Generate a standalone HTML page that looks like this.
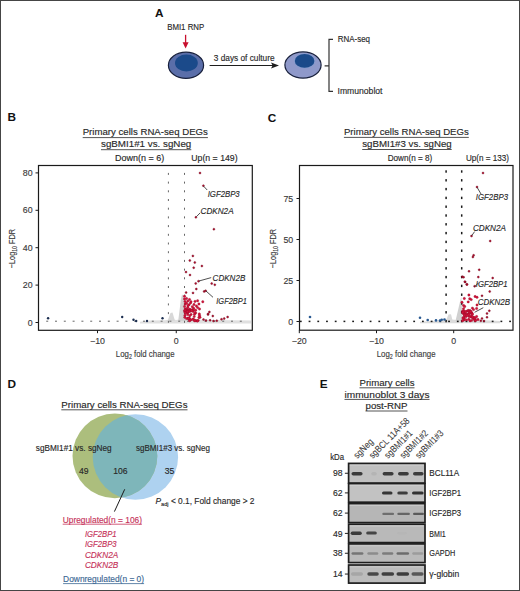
<!DOCTYPE html>
<html><head><meta charset="utf-8"><style>
html,body{margin:0;padding:0;background:#fff;}
svg{display:block;font-family:"Liberation Sans", sans-serif;}
</style></head><body>
<svg width="520" height="591" viewBox="0 0 520 591">
<rect width="520" height="591" fill="#fff"/>
<rect x="0.5" y="0.5" width="519" height="590" fill="none" stroke="#454545" stroke-width="1"/>
<text x="155.0" y="16.9" font-size="11.8" text-anchor="start" font-weight="bold" font-style="normal" fill="#111" >A</text>
<text x="167.2" y="30.1" font-size="8.8" text-anchor="start" font-weight="normal" font-style="normal" fill="#282828" stroke="#282828" stroke-width="0.14" textLength="37" lengthAdjust="spacingAndGlyphs" >BMI1 RNP</text>
<line x1="185.6" y1="34.8" x2="185.6" y2="43.5" stroke="#c8102e" stroke-width="1.3" />
<path d="M182.6,42.2 L188.6,42.2 L185.6,48.4 Z" fill="#c8102e" stroke="none" stroke-width="1" />
<ellipse cx="186" cy="65.3" rx="17.6" ry="13.1" fill="#5a6ea9" stroke="#18203c" stroke-width="1.2"/>
<ellipse cx="186.4" cy="62.9" rx="11.4" ry="8.5" fill="#1b4a8a"/>
<line x1="209.6" y1="65.5" x2="274" y2="65.5" stroke="#1e1e1e" stroke-width="1.0" />
<path d="M271,62.4 L279,65.5 L271,68.6 L272.6,65.5 Z" fill="#1e1e1e" stroke="none" stroke-width="1" />
<text x="213.8" y="61.0" font-size="8.8" text-anchor="start" font-weight="normal" font-style="normal" fill="#282828" stroke="#282828" stroke-width="0.14" textLength="60.8" lengthAdjust="spacingAndGlyphs" >3 days of culture</text>
<ellipse cx="303" cy="65" rx="18.1" ry="13.1" fill="#8f99ca" stroke="#18203c" stroke-width="1.2"/>
<ellipse cx="304.6" cy="60.9" rx="10.6" ry="7.4" fill="#7f9fd0" opacity="0.6"/>
<ellipse cx="304.6" cy="60.9" rx="9.8" ry="6.8" fill="#1b4a8a"/>
<path d="M324.6,65.8 H329 M333,39.4 H329 V91.3 H333" fill="none" stroke="#333" stroke-width="1.2" />
<text x="337.7" y="42.4" font-size="8.8" text-anchor="start" font-weight="normal" font-style="normal" fill="#282828" stroke="#282828" stroke-width="0.14" textLength="32.3" lengthAdjust="spacingAndGlyphs" >RNA-seq</text>
<text x="337.5" y="94.3" font-size="8.8" text-anchor="start" font-weight="normal" font-style="normal" fill="#282828" stroke="#282828" stroke-width="0.14" textLength="45" lengthAdjust="spacingAndGlyphs" >Immunoblot</text>
<text x="7.6" y="121.0" font-size="11.8" text-anchor="start" font-weight="bold" font-style="normal" fill="#111" >B</text>
<text x="82.7" y="135.2" font-size="9.4" text-anchor="start" font-weight="normal" font-style="normal" fill="#282828" stroke="#282828" stroke-width="0.14" textLength="125.2" lengthAdjust="spacingAndGlyphs" >Primary cells RNA-seq DEGs</text>
<line x1="82.7" y1="137.6" x2="207.9" y2="137.6" stroke="#282828" stroke-width="0.8" />
<text x="101" y="147.2" font-size="9.4" text-anchor="start" font-weight="normal" font-style="normal" fill="#282828" stroke="#282828" stroke-width="0.14" textLength="90.3" lengthAdjust="spacingAndGlyphs" >sgBMI1#1 vs. sgNeg</text>
<line x1="101" y1="149.7" x2="191.3" y2="149.7" stroke="#282828" stroke-width="0.8" />
<text x="115" y="160.6" font-size="8.2" text-anchor="start" font-weight="normal" font-style="normal" fill="#282828" stroke="#282828" stroke-width="0.14" textLength="49.2" lengthAdjust="spacingAndGlyphs" >Down(n = 6)</text>
<text x="191.3" y="160.6" font-size="8.2" text-anchor="start" font-weight="normal" font-style="normal" fill="#282828" stroke="#282828" stroke-width="0.14" textLength="46.3" lengthAdjust="spacingAndGlyphs" >Up(n = 149)</text>
<path d="M140,321.8 L150,320.6 L165,320.2 L172,319 L176,320 L182,319 L200,319.8 L230,320.2 L251,320.6 L251,323.4 L140,323.4 Z" fill="#e0e0e0" stroke="none" stroke-width="1" />
<path d="M167.5,321 L170.5,313 L172.5,312.6 L175,321 Z" fill="#d8d8d8" stroke="none" stroke-width="1" />
<path d="M178.2,321 L180.8,300 L182,294.4 L183.8,296 L186,321 Z" fill="#d2d2d2" stroke="none" stroke-width="1" />
<rect x="167.90" y="172.90" width="1" height="2" fill="#666"/>
<rect x="184.00" y="172.90" width="1" height="2" fill="#666"/>
<rect x="167.90" y="181.60" width="1" height="2" fill="#666"/>
<rect x="184.00" y="181.60" width="1" height="2" fill="#666"/>
<rect x="167.90" y="190.30" width="1" height="2" fill="#666"/>
<rect x="184.00" y="190.30" width="1" height="2" fill="#666"/>
<rect x="167.90" y="199.00" width="1" height="2" fill="#666"/>
<rect x="184.00" y="199.00" width="1" height="2" fill="#666"/>
<rect x="167.90" y="207.70" width="1" height="2" fill="#666"/>
<rect x="184.00" y="207.70" width="1" height="2" fill="#666"/>
<rect x="167.90" y="216.40" width="1" height="2" fill="#666"/>
<rect x="184.00" y="216.40" width="1" height="2" fill="#666"/>
<rect x="167.90" y="225.10" width="1" height="2" fill="#666"/>
<rect x="184.00" y="225.10" width="1" height="2" fill="#666"/>
<rect x="167.90" y="233.80" width="1" height="2" fill="#666"/>
<rect x="184.00" y="233.80" width="1" height="2" fill="#666"/>
<rect x="167.90" y="242.50" width="1" height="2" fill="#666"/>
<rect x="184.00" y="242.50" width="1" height="2" fill="#666"/>
<rect x="167.90" y="251.20" width="1" height="2" fill="#666"/>
<rect x="184.00" y="251.20" width="1" height="2" fill="#666"/>
<rect x="167.90" y="259.90" width="1" height="2" fill="#666"/>
<rect x="184.00" y="259.90" width="1" height="2" fill="#666"/>
<rect x="167.90" y="268.60" width="1" height="2" fill="#666"/>
<rect x="184.00" y="268.60" width="1" height="2" fill="#666"/>
<rect x="167.90" y="277.30" width="1" height="2" fill="#666"/>
<rect x="184.00" y="277.30" width="1" height="2" fill="#666"/>
<rect x="167.90" y="286.00" width="1" height="2" fill="#666"/>
<rect x="184.00" y="286.00" width="1" height="2" fill="#666"/>
<rect x="167.90" y="294.70" width="1" height="2" fill="#666"/>
<rect x="184.00" y="294.70" width="1" height="2" fill="#666"/>
<rect x="167.90" y="303.40" width="1" height="2" fill="#666"/>
<rect x="184.00" y="303.40" width="1" height="2" fill="#666"/>
<rect x="167.90" y="312.10" width="1" height="2" fill="#666"/>
<rect x="184.00" y="312.10" width="1" height="2" fill="#666"/>
<rect x="167.90" y="320.80" width="1" height="2" fill="#666"/>
<rect x="184.00" y="320.80" width="1" height="2" fill="#666"/>
<rect x="46.20" y="320.70" width="2" height="1" fill="#666"/>
<rect x="55.00" y="320.70" width="2" height="1" fill="#666"/>
<rect x="63.80" y="320.70" width="2" height="1" fill="#666"/>
<rect x="72.60" y="320.70" width="2" height="1" fill="#666"/>
<rect x="81.40" y="320.70" width="2" height="1" fill="#666"/>
<rect x="90.20" y="320.70" width="2" height="1" fill="#666"/>
<rect x="99.00" y="320.70" width="2" height="1" fill="#666"/>
<rect x="107.80" y="320.70" width="2" height="1" fill="#666"/>
<rect x="116.60" y="320.70" width="2" height="1" fill="#666"/>
<rect x="125.40" y="320.70" width="2" height="1" fill="#666"/>
<rect x="134.20" y="320.70" width="2" height="1" fill="#666"/>
<rect x="143.00" y="320.70" width="2" height="1" fill="#666"/>
<rect x="151.80" y="320.70" width="2" height="1" fill="#666"/>
<rect x="160.60" y="320.70" width="2" height="1" fill="#666"/>
<rect x="169.40" y="320.70" width="2" height="1" fill="#666"/>
<rect x="178.20" y="320.70" width="2" height="1" fill="#666"/>
<rect x="187.00" y="320.70" width="2" height="1" fill="#666"/>
<rect x="195.80" y="320.70" width="2" height="1" fill="#666"/>
<rect x="204.60" y="320.70" width="2" height="1" fill="#666"/>
<rect x="213.40" y="320.70" width="2" height="1" fill="#666"/>
<rect x="222.20" y="320.70" width="2" height="1" fill="#666"/>
<rect x="231.00" y="320.70" width="2" height="1" fill="#666"/>
<rect x="239.80" y="320.70" width="2" height="1" fill="#666"/>
<circle cx="48.1" cy="318.3" r="1.2" fill="#1b2d4f"/>
<circle cx="122.2" cy="317.0" r="1.2" fill="#1b2d4f"/>
<circle cx="133.5" cy="319.7" r="1.2" fill="#1b2d4f"/>
<circle cx="136.2" cy="321.0" r="1.2" fill="#1b2d4f"/>
<circle cx="147.0" cy="321.0" r="1.2" fill="#1b2d4f"/>
<circle cx="162.5" cy="318.3" r="1.2" fill="#1b2d4f"/>
<circle cx="200.0" cy="173.0" r="1.0" fill="#b40c2c" stroke="#6a0a1e" stroke-width="0.4"/>
<circle cx="203.4" cy="185.7" r="1.0" fill="#b40c2c" stroke="#6a0a1e" stroke-width="0.4"/>
<circle cx="195.9" cy="217.3" r="1.0" fill="#b40c2c" stroke="#6a0a1e" stroke-width="0.4"/>
<circle cx="213.9" cy="229.2" r="1.0" fill="#b40c2c" stroke="#6a0a1e" stroke-width="0.4"/>
<circle cx="192.9" cy="255.9" r="1.0" fill="#b40c2c" stroke="#6a0a1e" stroke-width="0.4"/>
<circle cx="189.8" cy="260.5" r="1.0" fill="#b40c2c" stroke="#6a0a1e" stroke-width="0.4"/>
<circle cx="194.8" cy="262.5" r="1.0" fill="#b40c2c" stroke="#6a0a1e" stroke-width="0.4"/>
<circle cx="201.9" cy="266.0" r="1.0" fill="#b40c2c" stroke="#6a0a1e" stroke-width="0.4"/>
<circle cx="193.7" cy="267.7" r="1.0" fill="#b40c2c" stroke="#6a0a1e" stroke-width="0.4"/>
<circle cx="186.0" cy="272.1" r="1.0" fill="#b40c2c" stroke="#6a0a1e" stroke-width="0.4"/>
<circle cx="190.0" cy="275.0" r="1.0" fill="#b40c2c" stroke="#6a0a1e" stroke-width="0.4"/>
<circle cx="195.7" cy="283.4" r="1.0" fill="#b40c2c" stroke="#6a0a1e" stroke-width="0.4"/>
<circle cx="198.5" cy="281.2" r="1.0" fill="#b40c2c" stroke="#6a0a1e" stroke-width="0.4"/>
<circle cx="211.7" cy="283.6" r="1.0" fill="#b40c2c" stroke="#6a0a1e" stroke-width="0.4"/>
<circle cx="214.8" cy="284.8" r="1.0" fill="#b40c2c" stroke="#6a0a1e" stroke-width="0.4"/>
<circle cx="196.3" cy="289.0" r="1.0" fill="#b40c2c" stroke="#6a0a1e" stroke-width="0.4"/>
<circle cx="186.1" cy="292.6" r="1.0" fill="#b40c2c" stroke="#6a0a1e" stroke-width="0.4"/>
<circle cx="193.0" cy="292.9" r="1.0" fill="#b40c2c" stroke="#6a0a1e" stroke-width="0.4"/>
<circle cx="204.1" cy="291.4" r="1.0" fill="#b40c2c" stroke="#6a0a1e" stroke-width="0.4"/>
<circle cx="205.6" cy="290.8" r="1.0" fill="#b40c2c" stroke="#6a0a1e" stroke-width="0.4"/>
<circle cx="184.5" cy="296.2" r="1.2" fill="#d41239" stroke="#8c0c28" stroke-width="0.3"/>
<circle cx="186.5" cy="298.5" r="1.2" fill="#d41239" stroke="#8c0c28" stroke-width="0.3"/>
<circle cx="187.8" cy="301.1" r="1.2" fill="#d41239" stroke="#8c0c28" stroke-width="0.3"/>
<circle cx="195.0" cy="301.4" r="1.2" fill="#d41239" stroke="#8c0c28" stroke-width="0.3"/>
<circle cx="197.6" cy="300.8" r="1.2" fill="#d41239" stroke="#8c0c28" stroke-width="0.3"/>
<circle cx="202.8" cy="301.8" r="1.2" fill="#d41239" stroke="#8c0c28" stroke-width="0.3"/>
<circle cx="185.2" cy="304.0" r="1.2" fill="#d41239" stroke="#8c0c28" stroke-width="0.3"/>
<circle cx="189.1" cy="304.7" r="1.2" fill="#d41239" stroke="#8c0c28" stroke-width="0.3"/>
<circle cx="198.9" cy="304.0" r="1.2" fill="#d41239" stroke="#8c0c28" stroke-width="0.3"/>
<circle cx="187.8" cy="307.3" r="1.2" fill="#d41239" stroke="#8c0c28" stroke-width="0.3"/>
<circle cx="192.3" cy="306.7" r="1.2" fill="#d41239" stroke="#8c0c28" stroke-width="0.3"/>
<circle cx="193.6" cy="308.3" r="1.2" fill="#d41239" stroke="#8c0c28" stroke-width="0.3"/>
<circle cx="197.6" cy="307.6" r="1.2" fill="#d41239" stroke="#8c0c28" stroke-width="0.3"/>
<circle cx="199.5" cy="309.0" r="1.2" fill="#d41239" stroke="#8c0c28" stroke-width="0.3"/>
<circle cx="185.2" cy="309.0" r="1.2" fill="#d41239" stroke="#8c0c28" stroke-width="0.3"/>
<circle cx="193.0" cy="310.3" r="1.2" fill="#d41239" stroke="#8c0c28" stroke-width="0.3"/>
<circle cx="195.6" cy="312.9" r="1.2" fill="#d41239" stroke="#8c0c28" stroke-width="0.3"/>
<circle cx="199.5" cy="315.5" r="1.2" fill="#d41239" stroke="#8c0c28" stroke-width="0.3"/>
<circle cx="198.9" cy="317.5" r="1.2" fill="#d41239" stroke="#8c0c28" stroke-width="0.3"/>
<circle cx="198.2" cy="320.4" r="1.2" fill="#d41239" stroke="#8c0c28" stroke-width="0.3"/>
<circle cx="208.0" cy="314.5" r="1.0" fill="#b40c2c" stroke="#6a0a1e" stroke-width="0.4"/>
<circle cx="209.4" cy="311.9" r="1.0" fill="#b40c2c" stroke="#6a0a1e" stroke-width="0.4"/>
<circle cx="208.1" cy="313.9" r="1.0" fill="#b40c2c" stroke="#6a0a1e" stroke-width="0.4"/>
<circle cx="212.8" cy="316.0" r="1.0" fill="#b40c2c" stroke="#6a0a1e" stroke-width="0.4"/>
<circle cx="210.1" cy="320.3" r="1.0" fill="#b40c2c" stroke="#6a0a1e" stroke-width="0.4"/>
<circle cx="213.5" cy="321.0" r="1.0" fill="#b40c2c" stroke="#6a0a1e" stroke-width="0.4"/>
<circle cx="216.8" cy="320.7" r="1.0" fill="#b40c2c" stroke="#6a0a1e" stroke-width="0.4"/>
<circle cx="221.5" cy="319.3" r="1.0" fill="#b40c2c" stroke="#6a0a1e" stroke-width="0.4"/>
<circle cx="224.2" cy="318.6" r="1.0" fill="#b40c2c" stroke="#6a0a1e" stroke-width="0.4"/>
<circle cx="227.6" cy="317.0" r="1.0" fill="#b40c2c" stroke="#6a0a1e" stroke-width="0.4"/>
<circle cx="200.0" cy="317.3" r="1.2" fill="#d41239" stroke="#8c0c28" stroke-width="0.3"/>
<circle cx="199.3" cy="313.9" r="1.2" fill="#d41239" stroke="#8c0c28" stroke-width="0.3"/>
<circle cx="203.5" cy="319.5" r="1.0" fill="#b40c2c" stroke="#6a0a1e" stroke-width="0.4"/>
<circle cx="206.0" cy="320.5" r="1.0" fill="#b40c2c" stroke="#6a0a1e" stroke-width="0.4"/>
<circle cx="184.5" cy="299.0" r="1.2" fill="#d41239" stroke="#8c0c28" stroke-width="0.3"/>
<circle cx="185.0" cy="301.5" r="1.2" fill="#d41239" stroke="#8c0c28" stroke-width="0.3"/>
<circle cx="186.5" cy="303.2" r="1.2" fill="#d41239" stroke="#8c0c28" stroke-width="0.3"/>
<circle cx="184.6" cy="306.5" r="1.2" fill="#d41239" stroke="#8c0c28" stroke-width="0.3"/>
<circle cx="188.0" cy="305.5" r="1.2" fill="#d41239" stroke="#8c0c28" stroke-width="0.3"/>
<circle cx="190.5" cy="303.0" r="1.2" fill="#d41239" stroke="#8c0c28" stroke-width="0.3"/>
<circle cx="186.0" cy="311.0" r="1.2" fill="#d41239" stroke="#8c0c28" stroke-width="0.3"/>
<circle cx="189.5" cy="299.5" r="1.2" fill="#d41239" stroke="#8c0c28" stroke-width="0.3"/>
<circle cx="191.0" cy="301.8" r="1.2" fill="#d41239" stroke="#8c0c28" stroke-width="0.3"/>
<circle cx="194.0" cy="304.5" r="1.2" fill="#d41239" stroke="#8c0c28" stroke-width="0.3"/>
<circle cx="196.4" cy="306.0" r="1.2" fill="#d41239" stroke="#8c0c28" stroke-width="0.3"/>
<circle cx="190.0" cy="309.5" r="1.2" fill="#d41239" stroke="#8c0c28" stroke-width="0.3"/>
<circle cx="188.0" cy="312.5" r="1.2" fill="#d41239" stroke="#8c0c28" stroke-width="0.3"/>
<circle cx="191.1" cy="314.4" r="1.2" fill="#d41239" stroke="#8c0c28" stroke-width="0.3"/>
<circle cx="190.4" cy="320.1" r="1.2" fill="#d41239" stroke="#8c0c28" stroke-width="0.3"/>
<circle cx="190.2" cy="311.2" r="1.2" fill="#d41239" stroke="#8c0c28" stroke-width="0.3"/>
<circle cx="194.2" cy="316.6" r="1.2" fill="#d41239" stroke="#8c0c28" stroke-width="0.3"/>
<circle cx="187.8" cy="310.1" r="1.2" fill="#d41239" stroke="#8c0c28" stroke-width="0.3"/>
<circle cx="193.5" cy="310.1" r="1.2" fill="#d41239" stroke="#8c0c28" stroke-width="0.3"/>
<circle cx="184.8" cy="317.3" r="1.2" fill="#d41239" stroke="#8c0c28" stroke-width="0.3"/>
<circle cx="197.0" cy="320.8" r="1.2" fill="#d41239" stroke="#8c0c28" stroke-width="0.3"/>
<circle cx="184.5" cy="310.9" r="1.2" fill="#d41239" stroke="#8c0c28" stroke-width="0.3"/>
<circle cx="185.0" cy="315.3" r="1.2" fill="#d41239" stroke="#8c0c28" stroke-width="0.3"/>
<circle cx="187.1" cy="311.3" r="1.2" fill="#d41239" stroke="#8c0c28" stroke-width="0.3"/>
<circle cx="189.5" cy="309.4" r="1.2" fill="#d41239" stroke="#8c0c28" stroke-width="0.3"/>
<circle cx="194.5" cy="314.3" r="1.2" fill="#d41239" stroke="#8c0c28" stroke-width="0.3"/>
<circle cx="187.7" cy="314.5" r="1.2" fill="#d41239" stroke="#8c0c28" stroke-width="0.3"/>
<circle cx="197.4" cy="321.0" r="1.2" fill="#d41239" stroke="#8c0c28" stroke-width="0.3"/>
<circle cx="193.4" cy="319.1" r="1.2" fill="#d41239" stroke="#8c0c28" stroke-width="0.3"/>
<circle cx="187.0" cy="312.8" r="1.2" fill="#d41239" stroke="#8c0c28" stroke-width="0.3"/>
<circle cx="185.1" cy="312.5" r="1.2" fill="#d41239" stroke="#8c0c28" stroke-width="0.3"/>
<circle cx="189.4" cy="318.2" r="1.2" fill="#d41239" stroke="#8c0c28" stroke-width="0.3"/>
<circle cx="189.3" cy="319.2" r="1.2" fill="#d41239" stroke="#8c0c28" stroke-width="0.3"/>
<circle cx="195.4" cy="320.5" r="1.2" fill="#d41239" stroke="#8c0c28" stroke-width="0.3"/>
<circle cx="186.6" cy="309.0" r="1.2" fill="#d41239" stroke="#8c0c28" stroke-width="0.3"/>
<circle cx="190.4" cy="319.9" r="1.2" fill="#d41239" stroke="#8c0c28" stroke-width="0.3"/>
<circle cx="189.5" cy="320.8" r="1.2" fill="#d41239" stroke="#8c0c28" stroke-width="0.3"/>
<circle cx="191.4" cy="309.9" r="1.2" fill="#d41239" stroke="#8c0c28" stroke-width="0.3"/>
<circle cx="187.7" cy="318.3" r="1.2" fill="#d41239" stroke="#8c0c28" stroke-width="0.3"/>
<circle cx="188.1" cy="310.0" r="1.2" fill="#d41239" stroke="#8c0c28" stroke-width="0.3"/>
<circle cx="194.3" cy="320.6" r="1.2" fill="#d41239" stroke="#8c0c28" stroke-width="0.3"/>
<circle cx="187.1" cy="310.4" r="1.2" fill="#d41239" stroke="#8c0c28" stroke-width="0.3"/>
<circle cx="185.0" cy="310.2" r="1.2" fill="#d41239" stroke="#8c0c28" stroke-width="0.3"/>
<circle cx="186.6" cy="318.6" r="1.2" fill="#d41239" stroke="#8c0c28" stroke-width="0.3"/>
<circle cx="189.8" cy="315.7" r="1.2" fill="#d41239" stroke="#8c0c28" stroke-width="0.3"/>
<circle cx="192.8" cy="311.3" r="1.2" fill="#d41239" stroke="#8c0c28" stroke-width="0.3"/>
<circle cx="191.7" cy="310.6" r="1.2" fill="#d41239" stroke="#8c0c28" stroke-width="0.3"/>
<circle cx="189.1" cy="310.4" r="1.2" fill="#d41239" stroke="#8c0c28" stroke-width="0.3"/>
<circle cx="187.4" cy="311.6" r="1.2" fill="#d41239" stroke="#8c0c28" stroke-width="0.3"/>
<circle cx="194.9" cy="320.7" r="1.2" fill="#d41239" stroke="#8c0c28" stroke-width="0.3"/>
<circle cx="194.7" cy="312.6" r="1.2" fill="#d41239" stroke="#8c0c28" stroke-width="0.3"/>
<circle cx="188.9" cy="311.5" r="1.2" fill="#d41239" stroke="#8c0c28" stroke-width="0.3"/>
<circle cx="192.6" cy="319.3" r="1.2" fill="#d41239" stroke="#8c0c28" stroke-width="0.3"/>
<circle cx="195.6" cy="310.2" r="1.2" fill="#d41239" stroke="#8c0c28" stroke-width="0.3"/>
<circle cx="187.3" cy="311.6" r="1.2" fill="#d41239" stroke="#8c0c28" stroke-width="0.3"/>
<circle cx="188.5" cy="318.3" r="1.2" fill="#d41239" stroke="#8c0c28" stroke-width="0.3"/>
<circle cx="185.2" cy="312.6" r="1.2" fill="#d41239" stroke="#8c0c28" stroke-width="0.3"/>
<text x="207.7" y="196.6" font-size="9" text-anchor="start" font-weight="normal" font-style="italic" fill="#282828" stroke="#282828" stroke-width="0.14" textLength="32" lengthAdjust="spacingAndGlyphs" >IGF2BP3</text>
<line x1="203.6" y1="186.2" x2="207.2" y2="190" stroke="#222" stroke-width="0.8" />
<text x="200.5" y="214" font-size="9" text-anchor="start" font-weight="normal" font-style="italic" fill="#282828" stroke="#282828" stroke-width="0.14" textLength="33.1" lengthAdjust="spacingAndGlyphs" >CDKN2A</text>
<line x1="196.5" y1="216.6" x2="200.2" y2="212.8" stroke="#222" stroke-width="0.8" />
<text x="212.6" y="281.1" font-size="9" text-anchor="start" font-weight="normal" font-style="italic" fill="#282828" stroke="#282828" stroke-width="0.14" textLength="32.7" lengthAdjust="spacingAndGlyphs" >CDKN2B</text>
<line x1="199" y1="281" x2="211.2" y2="277.6" stroke="#222" stroke-width="0.8" />
<text x="216.3" y="304.2" font-size="9" text-anchor="start" font-weight="normal" font-style="italic" fill="#282828" stroke="#282828" stroke-width="0.14" textLength="30.5" lengthAdjust="spacingAndGlyphs" >IGF2BP1</text>
<line x1="205.8" y1="290.8" x2="213" y2="297.3" stroke="#222" stroke-width="0.8" />
<rect x="38.5" y="165.5" width="213.8" height="164.8" fill="none" stroke="#1a1a1a" stroke-width="1.2"/>
<line x1="35.5" y1="322.5" x2="38.5" y2="322.5" stroke="#1a1a1a" stroke-width="1" />
<text x="32.6" y="325.5" font-size="8.8" text-anchor="end" font-weight="normal" font-style="normal" fill="#3a3a3a" stroke="#3a3a3a" stroke-width="0.14" >0</text>
<line x1="35.5" y1="285.1" x2="38.5" y2="285.1" stroke="#1a1a1a" stroke-width="1" />
<text x="32.6" y="288.1" font-size="8.8" text-anchor="end" font-weight="normal" font-style="normal" fill="#3a3a3a" stroke="#3a3a3a" stroke-width="0.14" >20</text>
<line x1="35.5" y1="247.7" x2="38.5" y2="247.7" stroke="#1a1a1a" stroke-width="1" />
<text x="32.6" y="250.7" font-size="8.8" text-anchor="end" font-weight="normal" font-style="normal" fill="#3a3a3a" stroke="#3a3a3a" stroke-width="0.14" >40</text>
<line x1="35.5" y1="210.3" x2="38.5" y2="210.3" stroke="#1a1a1a" stroke-width="1" />
<text x="32.6" y="213.3" font-size="8.8" text-anchor="end" font-weight="normal" font-style="normal" fill="#3a3a3a" stroke="#3a3a3a" stroke-width="0.14" >60</text>
<line x1="35.5" y1="172.89999999999998" x2="38.5" y2="172.89999999999998" stroke="#1a1a1a" stroke-width="1" />
<text x="32.6" y="175.89999999999998" font-size="8.8" text-anchor="end" font-weight="normal" font-style="normal" fill="#3a3a3a" stroke="#3a3a3a" stroke-width="0.14" >80</text>
<line x1="97.5" y1="330.3" x2="97.5" y2="333.2" stroke="#1a1a1a" stroke-width="1" />
<text x="97.5" y="344.2" font-size="8.8" text-anchor="middle" font-weight="normal" font-style="normal" fill="#3a3a3a" stroke="#3a3a3a" stroke-width="0.14" >−10</text>
<line x1="176.25" y1="330.3" x2="176.25" y2="333.2" stroke="#1a1a1a" stroke-width="1" />
<text x="176.25" y="344.2" font-size="8.8" text-anchor="middle" font-weight="normal" font-style="normal" fill="#3a3a3a" stroke="#3a3a3a" stroke-width="0.14" >0</text>
<text x="115.8" y="357.4" font-size="9.8" text-anchor="start" font-weight="normal" font-style="normal" fill="#3a3a3a" stroke="#3a3a3a" stroke-width="0.14" textLength="58.8" lengthAdjust="spacingAndGlyphs" >Log<tspan font-size="6.6" dy="2">2</tspan><tspan dy="-2"> fold change</tspan></text>
<text transform="translate(15.0,248.6) rotate(-90)" font-size="9.2" text-anchor="middle" fill="#3a3a3a" stroke="#3a3a3a" stroke-width="0.14" textLength="39.5" lengthAdjust="spacingAndGlyphs">−Log<tspan font-size="6.4" dy="2">10</tspan><tspan dy="-2"> FDR</tspan></text>
<text x="267.8" y="121.5" font-size="11.8" text-anchor="start" font-weight="bold" font-style="normal" fill="#111" >C</text>
<text x="343.9" y="135.2" font-size="9.4" text-anchor="start" font-weight="normal" font-style="normal" fill="#282828" stroke="#282828" stroke-width="0.14" textLength="124.9" lengthAdjust="spacingAndGlyphs" >Primary cells RNA-seq DEGs</text>
<line x1="343.9" y1="137.4" x2="468.8" y2="137.4" stroke="#282828" stroke-width="0.8" />
<text x="362.2" y="147.2" font-size="9.4" text-anchor="start" font-weight="normal" font-style="normal" fill="#282828" stroke="#282828" stroke-width="0.14" textLength="89.5" lengthAdjust="spacingAndGlyphs" >sgBMI1#3 vs. sgNeg</text>
<line x1="362.2" y1="149.5" x2="451.7" y2="149.5" stroke="#282828" stroke-width="0.8" />
<text x="387.7" y="160.5" font-size="8.4" text-anchor="start" font-weight="normal" font-style="normal" fill="#282828" stroke="#282828" stroke-width="0.14" textLength="44.6" lengthAdjust="spacingAndGlyphs" >Down(n = 8)</text>
<text x="465.9" y="160.5" font-size="8.4" text-anchor="start" font-weight="normal" font-style="normal" fill="#282828" stroke="#282828" stroke-width="0.14" textLength="43.1" lengthAdjust="spacingAndGlyphs" >Up(n = 133)</text>
<path d="M420,321.8 L440,320.5 L452,319.6 L458,320 L470,319.8 L490,320.4 L500,321 L500,323.2 L420,323.2 Z" fill="#dcdcdc" stroke="none" stroke-width="1" />
<path d="M445.8,321 L448.5,314.5 L451,314.2 L452.7,321 Z" fill="#dadada" stroke="none" stroke-width="1" />
<path d="M455.5,321 L459,306 L461.3,296.5 L462.5,321 Z" fill="#d0d0d0" stroke="none" stroke-width="1" />
<rect x="445.35" y="170.30" width="1.5" height="2.4" fill="#1a1a1a"/>
<rect x="460.95" y="170.30" width="1.5" height="2.4" fill="#1a1a1a"/>
<rect x="445.35" y="179.10" width="1.5" height="2.4" fill="#1a1a1a"/>
<rect x="460.95" y="179.10" width="1.5" height="2.4" fill="#1a1a1a"/>
<rect x="445.35" y="187.90" width="1.5" height="2.4" fill="#1a1a1a"/>
<rect x="460.95" y="187.90" width="1.5" height="2.4" fill="#1a1a1a"/>
<rect x="445.35" y="196.70" width="1.5" height="2.4" fill="#1a1a1a"/>
<rect x="460.95" y="196.70" width="1.5" height="2.4" fill="#1a1a1a"/>
<rect x="445.35" y="205.50" width="1.5" height="2.4" fill="#1a1a1a"/>
<rect x="460.95" y="205.50" width="1.5" height="2.4" fill="#1a1a1a"/>
<rect x="445.35" y="214.30" width="1.5" height="2.4" fill="#1a1a1a"/>
<rect x="460.95" y="214.30" width="1.5" height="2.4" fill="#1a1a1a"/>
<rect x="445.35" y="223.10" width="1.5" height="2.4" fill="#1a1a1a"/>
<rect x="460.95" y="223.10" width="1.5" height="2.4" fill="#1a1a1a"/>
<rect x="445.35" y="231.90" width="1.5" height="2.4" fill="#1a1a1a"/>
<rect x="460.95" y="231.90" width="1.5" height="2.4" fill="#1a1a1a"/>
<rect x="445.35" y="240.70" width="1.5" height="2.4" fill="#1a1a1a"/>
<rect x="460.95" y="240.70" width="1.5" height="2.4" fill="#1a1a1a"/>
<rect x="445.35" y="249.50" width="1.5" height="2.4" fill="#1a1a1a"/>
<rect x="460.95" y="249.50" width="1.5" height="2.4" fill="#1a1a1a"/>
<rect x="445.35" y="258.30" width="1.5" height="2.4" fill="#1a1a1a"/>
<rect x="460.95" y="258.30" width="1.5" height="2.4" fill="#1a1a1a"/>
<rect x="445.35" y="267.10" width="1.5" height="2.4" fill="#1a1a1a"/>
<rect x="460.95" y="267.10" width="1.5" height="2.4" fill="#1a1a1a"/>
<rect x="445.35" y="275.90" width="1.5" height="2.4" fill="#1a1a1a"/>
<rect x="460.95" y="275.90" width="1.5" height="2.4" fill="#1a1a1a"/>
<rect x="445.35" y="284.70" width="1.5" height="2.4" fill="#1a1a1a"/>
<rect x="460.95" y="284.70" width="1.5" height="2.4" fill="#1a1a1a"/>
<rect x="445.35" y="293.50" width="1.5" height="2.4" fill="#1a1a1a"/>
<rect x="460.95" y="293.50" width="1.5" height="2.4" fill="#1a1a1a"/>
<rect x="445.35" y="302.30" width="1.5" height="2.4" fill="#1a1a1a"/>
<rect x="460.95" y="302.30" width="1.5" height="2.4" fill="#1a1a1a"/>
<rect x="445.35" y="311.10" width="1.5" height="2.4" fill="#1a1a1a"/>
<rect x="460.95" y="311.10" width="1.5" height="2.4" fill="#1a1a1a"/>
<rect x="445.35" y="319.90" width="1.5" height="2.4" fill="#1a1a1a"/>
<rect x="460.95" y="319.90" width="1.5" height="2.4" fill="#1a1a1a"/>
<rect x="299.90" y="320.65" width="1.8" height="1.5" fill="#1a1a1a"/>
<rect x="308.62" y="320.65" width="1.8" height="1.5" fill="#1a1a1a"/>
<rect x="317.34" y="320.65" width="1.8" height="1.5" fill="#1a1a1a"/>
<rect x="326.06" y="320.65" width="1.8" height="1.5" fill="#1a1a1a"/>
<rect x="334.78" y="320.65" width="1.8" height="1.5" fill="#1a1a1a"/>
<rect x="343.50" y="320.65" width="1.8" height="1.5" fill="#1a1a1a"/>
<rect x="352.22" y="320.65" width="1.8" height="1.5" fill="#1a1a1a"/>
<rect x="360.94" y="320.65" width="1.8" height="1.5" fill="#1a1a1a"/>
<rect x="369.66" y="320.65" width="1.8" height="1.5" fill="#1a1a1a"/>
<rect x="378.38" y="320.65" width="1.8" height="1.5" fill="#1a1a1a"/>
<rect x="387.10" y="320.65" width="1.8" height="1.5" fill="#1a1a1a"/>
<rect x="395.82" y="320.65" width="1.8" height="1.5" fill="#1a1a1a"/>
<rect x="404.54" y="320.65" width="1.8" height="1.5" fill="#1a1a1a"/>
<rect x="413.26" y="320.65" width="1.8" height="1.5" fill="#1a1a1a"/>
<rect x="421.98" y="320.65" width="1.8" height="1.5" fill="#1a1a1a"/>
<rect x="430.70" y="320.65" width="1.8" height="1.5" fill="#1a1a1a"/>
<rect x="439.42" y="320.65" width="1.8" height="1.5" fill="#1a1a1a"/>
<rect x="448.14" y="320.65" width="1.8" height="1.5" fill="#1a1a1a"/>
<rect x="456.86" y="320.65" width="1.8" height="1.5" fill="#1a1a1a"/>
<rect x="465.58" y="320.65" width="1.8" height="1.5" fill="#1a1a1a"/>
<rect x="474.30" y="320.65" width="1.8" height="1.5" fill="#1a1a1a"/>
<rect x="483.02" y="320.65" width="1.8" height="1.5" fill="#1a1a1a"/>
<rect x="491.74" y="320.65" width="1.8" height="1.5" fill="#1a1a1a"/>
<rect x="500.46" y="320.65" width="1.8" height="1.5" fill="#1a1a1a"/>
<rect x="509.18" y="320.65" width="1.8" height="1.5" fill="#1a1a1a"/>
<circle cx="310.0" cy="317.0" r="1.3" fill="#2a5a92"/>
<circle cx="420.0" cy="317.7" r="1.3" fill="#2a5a92"/>
<circle cx="427.7" cy="320.0" r="1.3" fill="#2a5a92"/>
<circle cx="440.0" cy="320.6" r="1.3" fill="#2a5a92"/>
<circle cx="441.7" cy="319.8" r="1.3" fill="#2a5a92"/>
<circle cx="444.5" cy="319.5" r="1.3" fill="#2a5a92"/>
<circle cx="436.0" cy="320.4" r="1.3" fill="#2a5a92"/>
<circle cx="483.0" cy="173.0" r="1.0" fill="#b40c2c" stroke="#6a0a1e" stroke-width="0.4"/>
<circle cx="477.0" cy="187.0" r="1.0" fill="#b40c2c" stroke="#6a0a1e" stroke-width="0.4"/>
<circle cx="471.5" cy="236.0" r="1.0" fill="#b40c2c" stroke="#6a0a1e" stroke-width="0.4"/>
<circle cx="490.2" cy="241.0" r="1.0" fill="#b40c2c" stroke="#6a0a1e" stroke-width="0.4"/>
<circle cx="472.9" cy="257.0" r="1.0" fill="#b40c2c" stroke="#6a0a1e" stroke-width="0.4"/>
<circle cx="473.6" cy="255.3" r="1.0" fill="#b40c2c" stroke="#6a0a1e" stroke-width="0.4"/>
<circle cx="469.0" cy="271.3" r="1.0" fill="#b40c2c" stroke="#6a0a1e" stroke-width="0.4"/>
<circle cx="479.2" cy="269.8" r="1.0" fill="#b40c2c" stroke="#6a0a1e" stroke-width="0.4"/>
<circle cx="462.3" cy="276.7" r="1.0" fill="#b40c2c" stroke="#6a0a1e" stroke-width="0.4"/>
<circle cx="463.6" cy="277.2" r="1.0" fill="#b40c2c" stroke="#6a0a1e" stroke-width="0.4"/>
<circle cx="478.3" cy="277.1" r="1.0" fill="#b40c2c" stroke="#6a0a1e" stroke-width="0.4"/>
<circle cx="492.7" cy="278.0" r="1.0" fill="#b40c2c" stroke="#6a0a1e" stroke-width="0.4"/>
<circle cx="465.2" cy="282.0" r="1.0" fill="#b40c2c" stroke="#6a0a1e" stroke-width="0.4"/>
<circle cx="466.7" cy="284.4" r="1.0" fill="#b40c2c" stroke="#6a0a1e" stroke-width="0.4"/>
<circle cx="464.8" cy="281.7" r="1.0" fill="#b40c2c" stroke="#6a0a1e" stroke-width="0.4"/>
<circle cx="467.1" cy="284.4" r="1.0" fill="#b40c2c" stroke="#6a0a1e" stroke-width="0.4"/>
<circle cx="474.6" cy="286.3" r="1.0" fill="#b40c2c" stroke="#6a0a1e" stroke-width="0.4"/>
<circle cx="489.7" cy="291.5" r="1.0" fill="#b40c2c" stroke="#6a0a1e" stroke-width="0.4"/>
<circle cx="468.9" cy="295.0" r="1.2" fill="#d41239" stroke="#8c0c28" stroke-width="0.3"/>
<circle cx="475.1" cy="296.5" r="1.2" fill="#d41239" stroke="#8c0c28" stroke-width="0.3"/>
<circle cx="477.0" cy="297.3" r="1.2" fill="#d41239" stroke="#8c0c28" stroke-width="0.3"/>
<circle cx="482.0" cy="295.8" r="1.0" fill="#b40c2c" stroke="#6a0a1e" stroke-width="0.4"/>
<circle cx="464.3" cy="298.5" r="1.2" fill="#d41239" stroke="#8c0c28" stroke-width="0.3"/>
<circle cx="469.7" cy="298.8" r="1.2" fill="#d41239" stroke="#8c0c28" stroke-width="0.3"/>
<circle cx="471.2" cy="299.6" r="1.2" fill="#d41239" stroke="#8c0c28" stroke-width="0.3"/>
<circle cx="468.2" cy="301.9" r="1.2" fill="#d41239" stroke="#8c0c28" stroke-width="0.3"/>
<circle cx="462.0" cy="302.3" r="1.2" fill="#d41239" stroke="#8c0c28" stroke-width="0.3"/>
<circle cx="477.0" cy="305.0" r="1.2" fill="#d41239" stroke="#8c0c28" stroke-width="0.3"/>
<circle cx="463.5" cy="305.4" r="1.2" fill="#d41239" stroke="#8c0c28" stroke-width="0.3"/>
<circle cx="464.7" cy="306.5" r="1.2" fill="#d41239" stroke="#8c0c28" stroke-width="0.3"/>
<circle cx="472.4" cy="308.1" r="1.2" fill="#d41239" stroke="#8c0c28" stroke-width="0.3"/>
<circle cx="473.5" cy="309.6" r="1.2" fill="#d41239" stroke="#8c0c28" stroke-width="0.3"/>
<circle cx="476.6" cy="308.5" r="1.2" fill="#d41239" stroke="#8c0c28" stroke-width="0.3"/>
<circle cx="468.2" cy="310.4" r="1.2" fill="#d41239" stroke="#8c0c28" stroke-width="0.3"/>
<circle cx="470.0" cy="310.8" r="1.2" fill="#d41239" stroke="#8c0c28" stroke-width="0.3"/>
<circle cx="463.5" cy="308.8" r="1.2" fill="#d41239" stroke="#8c0c28" stroke-width="0.3"/>
<circle cx="489.3" cy="310.8" r="1.0" fill="#b40c2c" stroke="#6a0a1e" stroke-width="0.4"/>
<circle cx="487.0" cy="313.5" r="1.0" fill="#b40c2c" stroke="#6a0a1e" stroke-width="0.4"/>
<circle cx="487.0" cy="317.3" r="1.0" fill="#b40c2c" stroke="#6a0a1e" stroke-width="0.4"/>
<circle cx="482.0" cy="318.5" r="1.0" fill="#b40c2c" stroke="#6a0a1e" stroke-width="0.4"/>
<circle cx="480.8" cy="320.8" r="1.0" fill="#b40c2c" stroke="#6a0a1e" stroke-width="0.4"/>
<circle cx="476.6" cy="316.5" r="1.2" fill="#d41239" stroke="#8c0c28" stroke-width="0.3"/>
<circle cx="478.0" cy="319.5" r="1.2" fill="#d41239" stroke="#8c0c28" stroke-width="0.3"/>
<circle cx="484.0" cy="321.0" r="1.0" fill="#b40c2c" stroke="#6a0a1e" stroke-width="0.4"/>
<circle cx="471.5" cy="317.2" r="1.2" fill="#d41239" stroke="#8c0c28" stroke-width="0.3"/>
<circle cx="475.0" cy="319.0" r="1.2" fill="#d41239" stroke="#8c0c28" stroke-width="0.3"/>
<circle cx="474.4" cy="318.4" r="1.2" fill="#d41239" stroke="#8c0c28" stroke-width="0.3"/>
<circle cx="466.4" cy="311.3" r="1.2" fill="#d41239" stroke="#8c0c28" stroke-width="0.3"/>
<circle cx="471.6" cy="320.4" r="1.2" fill="#d41239" stroke="#8c0c28" stroke-width="0.3"/>
<circle cx="463.8" cy="320.0" r="1.2" fill="#d41239" stroke="#8c0c28" stroke-width="0.3"/>
<circle cx="465.1" cy="315.7" r="1.2" fill="#d41239" stroke="#8c0c28" stroke-width="0.3"/>
<circle cx="469.1" cy="316.4" r="1.2" fill="#d41239" stroke="#8c0c28" stroke-width="0.3"/>
<circle cx="464.1" cy="311.1" r="1.2" fill="#d41239" stroke="#8c0c28" stroke-width="0.3"/>
<circle cx="471.8" cy="313.8" r="1.2" fill="#d41239" stroke="#8c0c28" stroke-width="0.3"/>
<circle cx="464.3" cy="318.7" r="1.2" fill="#d41239" stroke="#8c0c28" stroke-width="0.3"/>
<circle cx="464.1" cy="319.0" r="1.2" fill="#d41239" stroke="#8c0c28" stroke-width="0.3"/>
<circle cx="463.8" cy="317.2" r="1.2" fill="#d41239" stroke="#8c0c28" stroke-width="0.3"/>
<circle cx="469.9" cy="311.0" r="1.2" fill="#d41239" stroke="#8c0c28" stroke-width="0.3"/>
<circle cx="464.4" cy="313.1" r="1.2" fill="#d41239" stroke="#8c0c28" stroke-width="0.3"/>
<circle cx="475.0" cy="320.8" r="1.2" fill="#d41239" stroke="#8c0c28" stroke-width="0.3"/>
<circle cx="472.3" cy="313.9" r="1.2" fill="#d41239" stroke="#8c0c28" stroke-width="0.3"/>
<circle cx="470.4" cy="316.4" r="1.2" fill="#d41239" stroke="#8c0c28" stroke-width="0.3"/>
<circle cx="471.6" cy="313.0" r="1.2" fill="#d41239" stroke="#8c0c28" stroke-width="0.3"/>
<circle cx="474.7" cy="317.9" r="1.2" fill="#d41239" stroke="#8c0c28" stroke-width="0.3"/>
<circle cx="466.4" cy="319.9" r="1.2" fill="#d41239" stroke="#8c0c28" stroke-width="0.3"/>
<circle cx="464.0" cy="314.6" r="1.2" fill="#d41239" stroke="#8c0c28" stroke-width="0.3"/>
<circle cx="462.8" cy="312.5" r="1.2" fill="#d41239" stroke="#8c0c28" stroke-width="0.3"/>
<circle cx="468.6" cy="314.0" r="1.2" fill="#d41239" stroke="#8c0c28" stroke-width="0.3"/>
<circle cx="468.2" cy="311.0" r="1.2" fill="#d41239" stroke="#8c0c28" stroke-width="0.3"/>
<circle cx="465.6" cy="314.4" r="1.2" fill="#d41239" stroke="#8c0c28" stroke-width="0.3"/>
<circle cx="468.8" cy="319.2" r="1.2" fill="#d41239" stroke="#8c0c28" stroke-width="0.3"/>
<circle cx="467.3" cy="314.2" r="1.2" fill="#d41239" stroke="#8c0c28" stroke-width="0.3"/>
<circle cx="462.9" cy="318.0" r="1.2" fill="#d41239" stroke="#8c0c28" stroke-width="0.3"/>
<circle cx="462.5" cy="320.8" r="1.2" fill="#d41239" stroke="#8c0c28" stroke-width="0.3"/>
<circle cx="473.4" cy="318.5" r="1.2" fill="#d41239" stroke="#8c0c28" stroke-width="0.3"/>
<circle cx="469.2" cy="311.2" r="1.2" fill="#d41239" stroke="#8c0c28" stroke-width="0.3"/>
<circle cx="468.6" cy="314.7" r="1.2" fill="#d41239" stroke="#8c0c28" stroke-width="0.3"/>
<circle cx="462.6" cy="311.1" r="1.2" fill="#d41239" stroke="#8c0c28" stroke-width="0.3"/>
<circle cx="471.6" cy="312.8" r="1.2" fill="#d41239" stroke="#8c0c28" stroke-width="0.3"/>
<circle cx="469.7" cy="313.0" r="1.2" fill="#d41239" stroke="#8c0c28" stroke-width="0.3"/>
<circle cx="475.7" cy="320.3" r="1.2" fill="#d41239" stroke="#8c0c28" stroke-width="0.3"/>
<circle cx="466.1" cy="314.4" r="1.2" fill="#d41239" stroke="#8c0c28" stroke-width="0.3"/>
<circle cx="471.5" cy="316.2" r="1.2" fill="#d41239" stroke="#8c0c28" stroke-width="0.3"/>
<circle cx="469.3" cy="312.1" r="1.2" fill="#d41239" stroke="#8c0c28" stroke-width="0.3"/>
<circle cx="473.9" cy="319.0" r="1.2" fill="#d41239" stroke="#8c0c28" stroke-width="0.3"/>
<circle cx="470.7" cy="311.4" r="1.2" fill="#d41239" stroke="#8c0c28" stroke-width="0.3"/>
<circle cx="465.4" cy="311.9" r="1.2" fill="#d41239" stroke="#8c0c28" stroke-width="0.3"/>
<circle cx="473.6" cy="317.1" r="1.2" fill="#d41239" stroke="#8c0c28" stroke-width="0.3"/>
<circle cx="472.2" cy="314.4" r="1.2" fill="#d41239" stroke="#8c0c28" stroke-width="0.3"/>
<circle cx="466.0" cy="316.5" r="1.2" fill="#d41239" stroke="#8c0c28" stroke-width="0.3"/>
<circle cx="464.1" cy="314.2" r="1.2" fill="#d41239" stroke="#8c0c28" stroke-width="0.3"/>
<circle cx="463.6" cy="311.8" r="1.2" fill="#d41239" stroke="#8c0c28" stroke-width="0.3"/>
<circle cx="475.1" cy="317.9" r="1.2" fill="#d41239" stroke="#8c0c28" stroke-width="0.3"/>
<circle cx="462.7" cy="312.6" r="1.2" fill="#d41239" stroke="#8c0c28" stroke-width="0.3"/>
<circle cx="470.1" cy="320.9" r="1.2" fill="#d41239" stroke="#8c0c28" stroke-width="0.3"/>
<circle cx="464.9" cy="315.1" r="1.2" fill="#d41239" stroke="#8c0c28" stroke-width="0.3"/>
<circle cx="472.4" cy="316.9" r="1.2" fill="#d41239" stroke="#8c0c28" stroke-width="0.3"/>
<circle cx="467.1" cy="315.6" r="1.2" fill="#d41239" stroke="#8c0c28" stroke-width="0.3"/>
<circle cx="470.6" cy="311.6" r="1.2" fill="#d41239" stroke="#8c0c28" stroke-width="0.3"/>
<text x="475.8" y="200.0" font-size="9" text-anchor="start" font-weight="normal" font-style="italic" fill="#282828" stroke="#282828" stroke-width="0.14" textLength="32.2" lengthAdjust="spacingAndGlyphs" >IGF2BP3</text>
<line x1="477.2" y1="187.5" x2="481.2" y2="194.3" stroke="#222" stroke-width="0.8" />
<text x="472.9" y="231" font-size="9" text-anchor="start" font-weight="normal" font-style="italic" fill="#282828" stroke="#282828" stroke-width="0.14" textLength="33.1" lengthAdjust="spacingAndGlyphs" >CDKN2A</text>
<line x1="471.8" y1="235.6" x2="474.6" y2="231.6" stroke="#222" stroke-width="0.8" />
<text x="475.8" y="287.3" font-size="9" text-anchor="start" font-weight="normal" font-style="italic" fill="#282828" stroke="#282828" stroke-width="0.14" textLength="31.7" lengthAdjust="spacingAndGlyphs" >IGF2BP1</text>
<line x1="474.8" y1="286.6" x2="478.6" y2="282.8" stroke="#222" stroke-width="0.8" />
<text x="477.7" y="305.2" font-size="9" text-anchor="start" font-weight="normal" font-style="italic" fill="#282828" stroke="#282828" stroke-width="0.14" textLength="32.3" lengthAdjust="spacingAndGlyphs" >CDKN2B</text>
<line x1="483.3" y1="307.7" x2="474.6" y2="312.3" stroke="#222" stroke-width="0.8" />
<rect x="299.5" y="165.5" width="213.5" height="164.7" fill="none" stroke="#1a1a1a" stroke-width="1.2"/>
<line x1="296.5" y1="321.5" x2="299.5" y2="321.5" stroke="#1a1a1a" stroke-width="1" />
<text x="293.2" y="324.5" font-size="8.8" text-anchor="end" font-weight="normal" font-style="normal" fill="#3a3a3a" stroke="#3a3a3a" stroke-width="0.14" >0</text>
<line x1="296.5" y1="280.5" x2="299.5" y2="280.5" stroke="#1a1a1a" stroke-width="1" />
<text x="293.2" y="283.5" font-size="8.8" text-anchor="end" font-weight="normal" font-style="normal" fill="#3a3a3a" stroke="#3a3a3a" stroke-width="0.14" >25</text>
<line x1="296.5" y1="239.5" x2="299.5" y2="239.5" stroke="#1a1a1a" stroke-width="1" />
<text x="293.2" y="242.5" font-size="8.8" text-anchor="end" font-weight="normal" font-style="normal" fill="#3a3a3a" stroke="#3a3a3a" stroke-width="0.14" >50</text>
<line x1="296.5" y1="198.5" x2="299.5" y2="198.5" stroke="#1a1a1a" stroke-width="1" />
<text x="293.2" y="201.5" font-size="8.8" text-anchor="end" font-weight="normal" font-style="normal" fill="#3a3a3a" stroke="#3a3a3a" stroke-width="0.14" >75</text>
<line x1="299.29999999999995" y1="330.2" x2="299.29999999999995" y2="333.2" stroke="#1a1a1a" stroke-width="1" />
<text x="299.29999999999995" y="344.2" font-size="8.8" text-anchor="middle" font-weight="normal" font-style="normal" fill="#3a3a3a" stroke="#3a3a3a" stroke-width="0.14" >−20</text>
<line x1="376.5" y1="330.2" x2="376.5" y2="333.2" stroke="#1a1a1a" stroke-width="1" />
<text x="376.5" y="344.2" font-size="8.8" text-anchor="middle" font-weight="normal" font-style="normal" fill="#3a3a3a" stroke="#3a3a3a" stroke-width="0.14" >−10</text>
<line x1="453.7" y1="330.2" x2="453.7" y2="333.2" stroke="#1a1a1a" stroke-width="1" />
<text x="453.7" y="344.2" font-size="8.8" text-anchor="middle" font-weight="normal" font-style="normal" fill="#3a3a3a" stroke="#3a3a3a" stroke-width="0.14" >0</text>
<text x="376.7" y="357.0" font-size="9.8" text-anchor="start" font-weight="normal" font-style="normal" fill="#3a3a3a" stroke="#3a3a3a" stroke-width="0.14" textLength="58.9" lengthAdjust="spacingAndGlyphs" >Log<tspan font-size="6.6" dy="2">2</tspan><tspan dy="-2"> fold change</tspan></text>
<text transform="translate(276.2,248.6) rotate(-90)" font-size="9.2" text-anchor="middle" fill="#3a3a3a" stroke="#3a3a3a" stroke-width="0.14" textLength="39.5" lengthAdjust="spacingAndGlyphs">−Log<tspan font-size="6.4" dy="2">10</tspan><tspan dy="-2"> FDR</tspan></text>
<text x="7.4" y="387.7" font-size="11.8" text-anchor="start" font-weight="bold" font-style="normal" fill="#111" >D</text>
<text x="61.3" y="407.6" font-size="9.4" text-anchor="start" font-weight="normal" font-style="normal" fill="#282828" stroke="#282828" stroke-width="0.14" textLength="126.2" lengthAdjust="spacingAndGlyphs" >Primary cells RNA-seq DEGs</text>
<line x1="61.3" y1="409.8" x2="187.5" y2="409.8" stroke="#282828" stroke-width="0.8" />
<circle cx="135.4" cy="457" r="42.7" fill="#aed2f0"/>
<circle cx="114.9" cy="455.9" r="42.4" fill="#acbe7d"/>
<clipPath id="cl"><circle cx="114.9" cy="455.9" r="42.4"/></clipPath>
<circle cx="135.4" cy="457" r="42.7" fill="#7eb6ba" clip-path="url(#cl)"/>
<text x="35.8" y="451.3" font-size="8.6" text-anchor="start" font-weight="normal" font-style="normal" fill="#282828" stroke="#282828" stroke-width="0.14" textLength="75.9" lengthAdjust="spacingAndGlyphs" >sgBMI1#1 vs. sgNeg</text>
<text x="136" y="451.3" font-size="8.6" text-anchor="start" font-weight="normal" font-style="normal" fill="#282828" stroke="#282828" stroke-width="0.14" textLength="74" lengthAdjust="spacingAndGlyphs" >sgBMI1#3 vs. sgNeg</text>
<text x="83.8" y="474" font-size="8.6" text-anchor="middle" font-weight="normal" font-style="normal" fill="#282828" stroke="#282828" stroke-width="0.14" >49</text>
<text x="120.4" y="474" font-size="8.6" text-anchor="middle" font-weight="normal" font-style="normal" fill="#282828" stroke="#282828" stroke-width="0.14" >106</text>
<text x="169.5" y="474" font-size="8.6" text-anchor="middle" font-weight="normal" font-style="normal" fill="#282828" stroke="#282828" stroke-width="0.14" >35</text>
<line x1="124.7" y1="489.3" x2="114.4" y2="511.6" stroke="#1a1a1a" stroke-width="1" />
<text x="155.5" y="503.8" font-size="8.6" text-anchor="start" font-weight="normal" font-style="normal" fill="#282828" stroke="#282828" stroke-width="0.14" textLength="99" lengthAdjust="spacingAndGlyphs" ><tspan font-style="italic">P</tspan><tspan font-size="5.8" dy="2">adj</tspan><tspan dy="-2"> &lt; 0.1, Fold change &gt; 2</tspan></text>
<text x="62.7" y="522.7" font-size="8.6" text-anchor="start" font-weight="normal" font-style="normal" fill="#c6335a" stroke="#c6335a" stroke-width="0.14" textLength="79.3" lengthAdjust="spacingAndGlyphs" >Upregulated(n = 106)</text>
<line x1="62.7" y1="524.2" x2="142" y2="524.2" stroke="#c6335a" stroke-width="0.8" />
<text x="84.9" y="536.7" font-size="8.6" text-anchor="start" font-weight="normal" font-style="italic" fill="#c6335a" stroke="#c6335a" stroke-width="0.14" textLength="31.7" lengthAdjust="spacingAndGlyphs" >IGF2BP1</text>
<text x="84.9" y="547.1500000000001" font-size="8.6" text-anchor="start" font-weight="normal" font-style="italic" fill="#c6335a" stroke="#c6335a" stroke-width="0.14" textLength="31.7" lengthAdjust="spacingAndGlyphs" >IGF2BP3</text>
<text x="84.9" y="557.6" font-size="8.6" text-anchor="start" font-weight="normal" font-style="italic" fill="#c6335a" stroke="#c6335a" stroke-width="0.14" textLength="33.5" lengthAdjust="spacingAndGlyphs" >CDKN2A</text>
<text x="84.9" y="568.0500000000001" font-size="8.6" text-anchor="start" font-weight="normal" font-style="italic" fill="#c6335a" stroke="#c6335a" stroke-width="0.14" textLength="33.5" lengthAdjust="spacingAndGlyphs" >CDKN2B</text>
<text x="63.1" y="581.8" font-size="8.6" text-anchor="start" font-weight="normal" font-style="normal" fill="#3b6793" stroke="#3b6793" stroke-width="0.14" textLength="81" lengthAdjust="spacingAndGlyphs" >Downregulated(n = 0)</text>
<line x1="63.1" y1="583.6" x2="144.1" y2="583.6" stroke="#3b6793" stroke-width="0.8" />
<text x="319.8" y="388.2" font-size="11.8" text-anchor="start" font-weight="bold" font-style="normal" fill="#111" >E</text>
<text x="387" y="386" font-size="9.4" text-anchor="middle" font-weight="normal" font-style="normal" fill="#282828" stroke="#282828" stroke-width="0.14" textLength="55" lengthAdjust="spacingAndGlyphs" >Primary cells</text>
<line x1="359.5" y1="387.8" x2="414.5" y2="387.8" stroke="#282828" stroke-width="0.8" />
<text x="387" y="397.6" font-size="9.4" text-anchor="middle" font-weight="normal" font-style="normal" fill="#282828" stroke="#282828" stroke-width="0.14" textLength="85" lengthAdjust="spacingAndGlyphs" >immunoblot 3 days</text>
<line x1="344.5" y1="399.4" x2="429.5" y2="399.4" stroke="#282828" stroke-width="0.8" />
<text x="386.5" y="409.2" font-size="9.4" text-anchor="middle" font-weight="normal" font-style="normal" fill="#282828" stroke="#282828" stroke-width="0.14" textLength="42" lengthAdjust="spacingAndGlyphs" >post-RNP</text>
<line x1="365.5" y1="411" x2="407.5" y2="411" stroke="#282828" stroke-width="0.8" />
<text x="330.2" y="459.5" font-size="8.8" text-anchor="start" font-weight="normal" font-style="normal" fill="#282828" stroke="#282828" stroke-width="0.14" textLength="13.9" lengthAdjust="spacingAndGlyphs" >kDa</text>
<text transform="translate(357.3,459.0) rotate(-45)" font-size="9.4" fill="#3a3a3a" stroke="#3a3a3a" stroke-width="0.08" textLength="23.5" lengthAdjust="spacingAndGlyphs">sgNeg</text>
<text transform="translate(372.7,459.0) rotate(-45)" font-size="9.4" fill="#3a3a3a" stroke="#3a3a3a" stroke-width="0.08" textLength="53" lengthAdjust="spacingAndGlyphs">sgBCL 11A+58</text>
<text transform="translate(388.1,459.0) rotate(-45)" font-size="9.4" fill="#3a3a3a" stroke="#3a3a3a" stroke-width="0.08" textLength="35.5" lengthAdjust="spacingAndGlyphs">sgBMI1#1</text>
<text transform="translate(403.5,459.0) rotate(-45)" font-size="9.4" fill="#3a3a3a" stroke="#3a3a3a" stroke-width="0.08" textLength="35.5" lengthAdjust="spacingAndGlyphs">sgBMI1#2</text>
<text transform="translate(418.9,459.0) rotate(-45)" font-size="9.4" fill="#3a3a3a" stroke="#3a3a3a" stroke-width="0.08" textLength="35.5" lengthAdjust="spacingAndGlyphs">sgBMI1#3</text>
<filter id="bl" x="-20%" y="-100%" width="140%" height="300%"><feGaussianBlur stdDeviation="0.45"/></filter>
<rect x="348.6" y="463.4" width="76.4" height="19.7" fill="#c0c0c0" stroke="#1e1e1e" stroke-width="1.7"/>
<rect x="349.8" y="464.6" width="74" height="1.2" fill="#d2d2d2" opacity="0.6"/>
<line x1="344.9" y1="473.25" x2="348" y2="473.25" stroke="#222" stroke-width="1" />
<text x="342.5" y="476.35" font-size="8.6" text-anchor="end" font-weight="normal" font-style="normal" fill="#282828" stroke="#282828" stroke-width="0.14" >98</text>
<text x="429.3" y="476.35" font-size="8.6" text-anchor="start" font-weight="normal" font-style="normal" fill="#282828" stroke="#282828" stroke-width="0.14" textLength="29.8" lengthAdjust="spacingAndGlyphs" >BCL11A</text>
<rect x="348.6" y="483.6" width="76.4" height="18.6" fill="#c2c2c2" stroke="#1e1e1e" stroke-width="1.7"/>
<rect x="349.8" y="484.8" width="74" height="1.2" fill="#d2d2d2" opacity="0.6"/>
<line x1="344.9" y1="492.9" x2="348" y2="492.9" stroke="#222" stroke-width="1" />
<text x="342.5" y="496.0" font-size="8.6" text-anchor="end" font-weight="normal" font-style="normal" fill="#282828" stroke="#282828" stroke-width="0.14" >62</text>
<text x="429.3" y="496.0" font-size="8.6" text-anchor="start" font-weight="normal" font-style="normal" fill="#282828" stroke="#282828" stroke-width="0.14" textLength="31.8" lengthAdjust="spacingAndGlyphs" >IGF2BP1</text>
<rect x="348.6" y="503.6" width="76.4" height="19.0" fill="#b6b6b6" stroke="#1e1e1e" stroke-width="1.7"/>
<rect x="349.8" y="504.8" width="74" height="1.2" fill="#d2d2d2" opacity="0.6"/>
<line x1="344.9" y1="513.1" x2="348" y2="513.1" stroke="#222" stroke-width="1" />
<text x="342.5" y="516.2" font-size="8.6" text-anchor="end" font-weight="normal" font-style="normal" fill="#282828" stroke="#282828" stroke-width="0.14" >62</text>
<text x="429.3" y="516.2" font-size="8.6" text-anchor="start" font-weight="normal" font-style="normal" fill="#282828" stroke="#282828" stroke-width="0.14" textLength="31.8" lengthAdjust="spacingAndGlyphs" >IGF2BP3</text>
<rect x="348.6" y="524.2" width="76.4" height="18.4" fill="#b9b9b9" stroke="#1e1e1e" stroke-width="1.7"/>
<rect x="349.8" y="525.4" width="74" height="1.2" fill="#d2d2d2" opacity="0.6"/>
<line x1="344.9" y1="533.4000000000001" x2="348" y2="533.4000000000001" stroke="#222" stroke-width="1" />
<text x="342.5" y="536.5000000000001" font-size="8.6" text-anchor="end" font-weight="normal" font-style="normal" fill="#282828" stroke="#282828" stroke-width="0.14" >49</text>
<text x="429.3" y="536.5000000000001" font-size="8.6" text-anchor="start" font-weight="normal" font-style="normal" fill="#282828" stroke="#282828" stroke-width="0.14" textLength="16.5" lengthAdjust="spacingAndGlyphs" >BMI1</text>
<rect x="348.6" y="543.9" width="76.4" height="18.7" fill="#bababa" stroke="#1e1e1e" stroke-width="1.7"/>
<rect x="349.8" y="545.1" width="74" height="1.2" fill="#d2d2d2" opacity="0.6"/>
<line x1="344.9" y1="553.25" x2="348" y2="553.25" stroke="#222" stroke-width="1" />
<text x="342.5" y="556.35" font-size="8.6" text-anchor="end" font-weight="normal" font-style="normal" fill="#282828" stroke="#282828" stroke-width="0.14" >38</text>
<text x="429.3" y="556.35" font-size="8.6" text-anchor="start" font-weight="normal" font-style="normal" fill="#282828" stroke="#282828" stroke-width="0.14" textLength="26" lengthAdjust="spacingAndGlyphs" >GAPDH</text>
<rect x="348.6" y="565" width="76.4" height="18.1" fill="#bcbcbc" stroke="#1e1e1e" stroke-width="1.7"/>
<rect x="349.8" y="566.2" width="74" height="1.2" fill="#d2d2d2" opacity="0.6"/>
<line x1="344.9" y1="574.05" x2="348" y2="574.05" stroke="#222" stroke-width="1" />
<text x="342.5" y="577.15" font-size="8.6" text-anchor="end" font-weight="normal" font-style="normal" fill="#282828" stroke="#282828" stroke-width="0.14" >14</text>
<text x="429.3" y="577.15" font-size="8.6" text-anchor="start" font-weight="normal" font-style="normal" fill="#282828" stroke="#282828" stroke-width="0.14" textLength="30" lengthAdjust="spacingAndGlyphs" >γ-globin</text>
<rect x="351.5" y="471.9" width="11.1" height="3.6" rx="1.8" fill="#3a3a3a" filter="url(#bl)"/>
<rect x="371.2" y="471.9" width="5.6" height="3.6" rx="1.8" fill="#b4b4b4" filter="url(#bl)"/>
<rect x="382.6" y="471.9" width="11.0" height="3.6" rx="1.8" fill="#3a3a3a" filter="url(#bl)"/>
<rect x="398.0" y="471.9" width="10.8" height="3.6" rx="1.8" fill="#3a3a3a" filter="url(#bl)"/>
<rect x="413.0" y="471.9" width="10.6" height="3.6" rx="1.8" fill="#3e3e3e" filter="url(#bl)"/>
<rect x="382.0" y="491.6" width="10.5" height="3.0" rx="1.5" fill="#353535" filter="url(#bl)"/>
<rect x="397.3" y="491.6" width="10.5" height="3.0" rx="1.5" fill="#3c3c3c" filter="url(#bl)"/>
<rect x="412.0" y="491.6" width="11.6" height="3.0" rx="1.5" fill="#333333" filter="url(#bl)"/>
<rect x="382.3" y="512.8" width="11.8" height="2.3" rx="1.15" fill="#6e6e6e" filter="url(#bl)"/>
<rect x="397.3" y="512.8" width="12.6" height="2.3" rx="1.15" fill="#666" filter="url(#bl)"/>
<rect x="413.0" y="512.8" width="11.0" height="2.3" rx="1.15" fill="#5a5a5a" filter="url(#bl)"/>
<rect x="350.7" y="531.6" width="11.1" height="3.3" rx="1.65" fill="#3a3a3a" filter="url(#bl)"/>
<rect x="366.2" y="531.5" width="10.6" height="3.0" rx="1.5" fill="#444" filter="url(#bl)"/>
<rect x="397.0" y="532.0" width="10.0" height="2.4" rx="1.2" fill="#b6b6b6" filter="url(#bl)"/>
<rect x="351.5" y="552.2" width="11.9" height="2.6" rx="1.3" fill="#757575" filter="url(#bl)"/>
<rect x="367.3" y="552.2" width="11.0" height="2.6" rx="1.3" fill="#8c8c8c" filter="url(#bl)"/>
<rect x="382.0" y="552.2" width="11.3" height="2.6" rx="1.3" fill="#7c7c7c" filter="url(#bl)"/>
<rect x="396.5" y="552.2" width="12.6" height="2.6" rx="1.3" fill="#6c6c6c" filter="url(#bl)"/>
<rect x="412.2" y="552.2" width="11.1" height="2.6" rx="1.3" fill="#9c9c9c" filter="url(#bl)"/>
<rect x="351.0" y="572.3" width="12.0" height="3.4" rx="1.7" fill="#a6a6a6" filter="url(#bl)"/>
<rect x="367.3" y="572.3" width="11.5" height="3.4" rx="1.7" fill="#4a4a4a" filter="url(#bl)"/>
<rect x="381.5" y="572.3" width="12.6" height="3.4" rx="1.7" fill="#404040" filter="url(#bl)"/>
<rect x="396.5" y="572.3" width="12.6" height="3.4" rx="1.7" fill="#3c3c3c" filter="url(#bl)"/>
<rect x="411.5" y="572.3" width="12.1" height="3.4" rx="1.7" fill="#585858" filter="url(#bl)"/>
</svg></body></html>
